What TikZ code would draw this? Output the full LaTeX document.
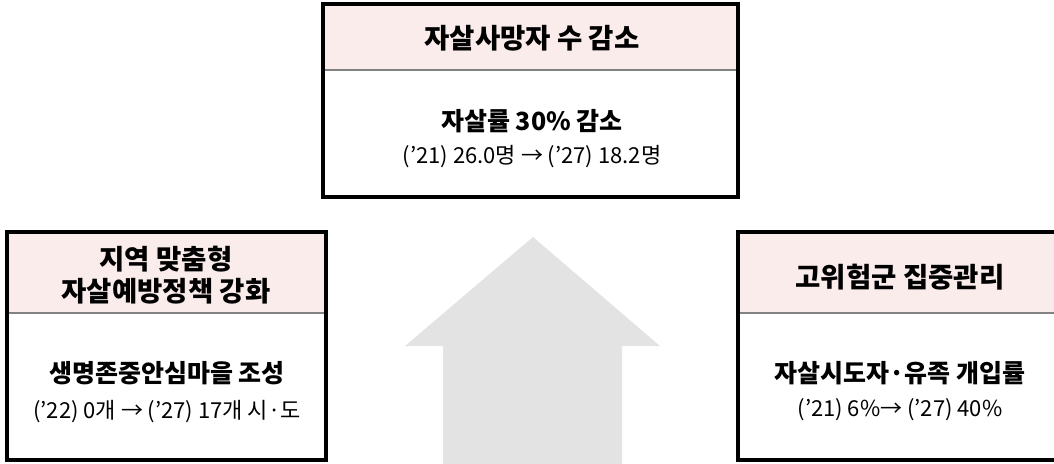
\documentclass[tikz,border=0pt]{standalone}
\usepackage{fontspec}
\setmainfont{Noto Sans CJK KR}
\usetikzlibrary{calc}

\definecolor{headpink}{RGB}{249,236,235}
\definecolor{arrowgray}{RGB}{227,227,227}
\definecolor{rulegray}{RGB}{130,130,130}

\tikzset{
  headtxt/.style={font=\fontsize{27.5}{34}\selectfont\bfseries, align=center, inner sep=0pt},
  goaltxt/.style={font=\fontsize{25}{30}\selectfont\bfseries, inner sep=0pt},
  figtxt/.style={font=\fontsize{22}{26}\selectfont, inner sep=0pt},
  frame/.style={line width=3.4pt, black},
  divider/.style={line width=1.4pt, rulegray}
}

\begin{document}
\begin{tikzpicture}[x=1pt,y=-1pt]
        \useasboundingbox (0,0) rectangle (1054,463);
        \clip (0,0) rectangle (1054,463);
        % big arrow in the middle
        \fill[arrowgray] (533,237) -- (660,346) -- (622,346) -- (622,465)
            -- (443,465) -- (443,346) -- (405,346) -- cycle;
        % top box
        \fill[headpink] (323,4) rectangle (738,70);
        \draw[divider] (323,70) -- (738,70);
        \draw[frame] (323,4) rectangle (738,197);
        \node[headtxt] (tophead) at (532,38) {자살사망자 수 감소};
        \node[goaltxt] (topgoal) at (532,121) {자살률 30\% 감소};
        \node[figtxt] (topfig) at (532,157) {('21) 26.0명 → ('27) 18.2명};
        % left box
        \fill[headpink] (7,232) rectangle (326,313);
        \draw[divider] (7,313) -- (326,313);
        \draw[frame] (7,232) rectangle (326,460);
        \node[headtxt] (lefthead) at (166,275) {지역 맞춤형\\[-2pt]자살예방정책 강화};
        \node[goaltxt] (leftgoal) at (167,373) {생명존중안심마을 조성};
        \node[figtxt] (leftfig) at (167,412) {('22) 0개 → ('27) 17개 시·도};
        % right box
        \fill[headpink] (738,232) rectangle (1062,313);
        \draw[divider] (738,313) -- (1062,313);
        \draw[frame] (738,232) rectangle (1062,460);
        \node[headtxt] (righthead) at (900,277) {고위험군 집중관리};
        \node[goaltxt] (rightgoal) at (900,373) {자살시도자·유족 개입률};
        \node[figtxt] (rightfig) at (900,410) {('21) 6\%→ ('27) 40\%};
    \end{tikzpicture}
\end{document}
